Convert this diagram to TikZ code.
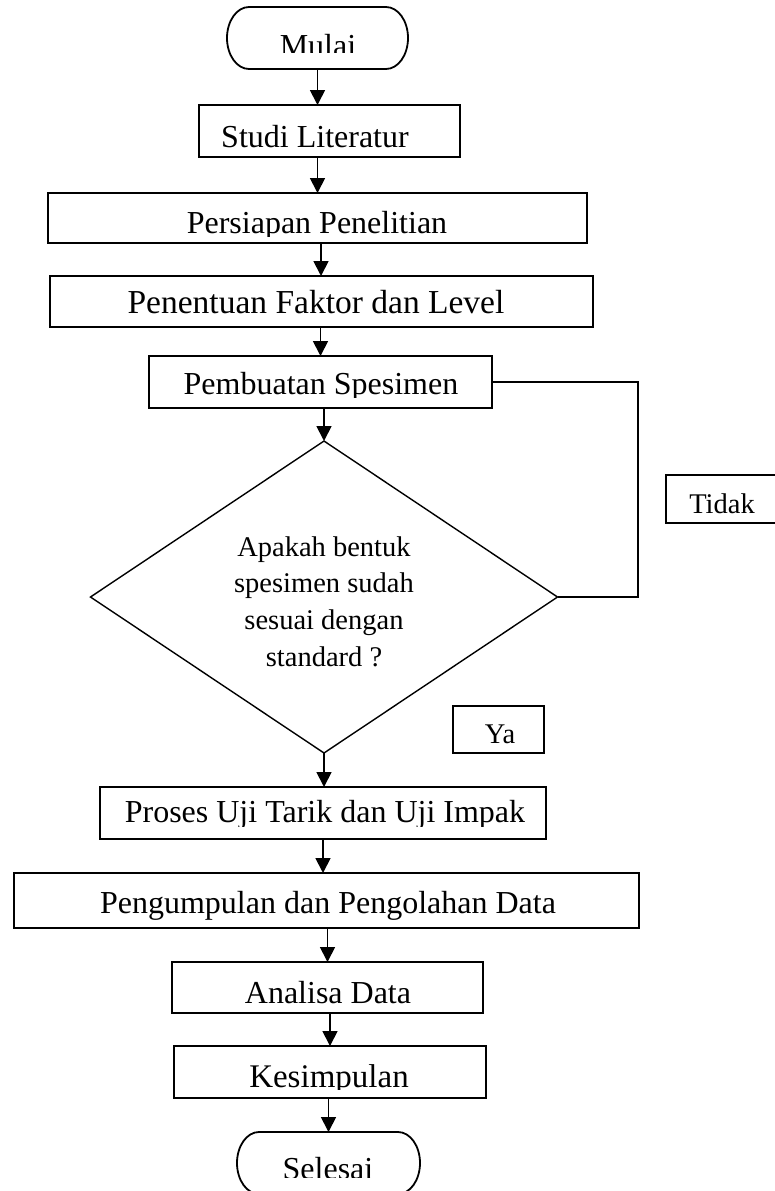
\documentclass[tikz,border=0pt]{standalone}
\usepackage{fontspec}
\setmainfont{Liberation Serif}
\usetikzlibrary{shapes.geometric,arrows.meta}
\newcommand{\boxfont}{\fontsize{32}{38}\selectfont}
\newcommand{\bigboxfont}{\fontsize{33.5}{40}\selectfont}
\newcommand{\midboxfont}{\fontsize{33}{40}\selectfont}
\newcommand{\qfont}{\fontsize{28.5}{36.7}\selectfont}
\newcommand{\lblfont}{\fontsize{28.5}{32}\selectfont}
\begin{document}
\begin{tikzpicture}[x=1pt,y=-1pt,
  stepbox/.style={draw, line width=1.8pt, rectangle, inner sep=0pt, outer sep=0pt, anchor=north west},
  term/.style={rectangle, inner sep=0pt, outer sep=0pt, anchor=north west, minimum height=62pt},
  termline/.style={line width=1.8pt},
  txt/.style={inner sep=0pt, outer sep=0pt, anchor=base, font=\boxfont},
  lbl/.style={txt, font=\lblfont},
  decision/.style={draw, line width=1.4pt, diamond, inner sep=0pt, outer sep=0pt, minimum width=467pt, minimum height=312pt},
  arr/.style={line width=1.8pt, -{Triangle[length=15pt,width=15pt]}},
  link/.style={line width=1.6pt}]
\fill[white] (0,0) rectangle (774,1191);
\useasboundingbox (0,0) rectangle (774,1191);

% terminal start
\node[term, minimum width=181pt] (mulai) at (227,7) {};
\draw[termline] ([xshift=22pt]mulai.north west) -- ([xshift=-22pt]mulai.north east)
  arc[start angle=90, end angle=-90, x radius=22pt, y radius=31pt]
  -- ([xshift=22pt]mulai.south west)
  arc[start angle=270, end angle=90, x radius=22pt, y radius=31pt] -- cycle;
\begin{scope}\clip (227,7) rectangle (408,52);
\node[txt] (mulait) at (318,56) {Mulai};\end{scope}

\node[stepbox, minimum width=261pt, minimum height=52pt] (studi) at (199,105) {};
\node[txt] (studit) at (315,147) {Studi Literatur};

\node[stepbox, minimum width=539pt, minimum height=50pt] (persiapan) at (48,193) {};
\begin{scope}\clip (48,193) rectangle (587,236);
\node[txt] (persiapant) at (317,233) {Persiapan Penelitian};\end{scope}

\node[stepbox, minimum width=543pt, minimum height=51pt] (penentuan) at (50,276) {};
\node[txt, font=\bigboxfont] (penentuant) at (316,313) {Penentuan Faktor dan Level};

\node[stepbox, minimum width=343pt, minimum height=52pt] (pembuatan) at (149,356) {};
\begin{scope}\clip (149,356) rectangle (492,397);
\node[txt] (pembuatant) at (321,394) {Pembuatan Spesimen};\end{scope}

\node[decision] (cek) at (324,597) {};
\node[inner sep=0pt, outer sep=0pt, anchor=north, align=center, font=\qfont] (cekt) at (324,536.5)
  {Apakah bentuk\\spesimen sudah\\sesuai dengan\\standard ?};

\node[stepbox, minimum width=114pt, minimum height=48pt] (tidak) at (666,475) {};
\node[lbl] (tidakt) at (722,513) {Tidak};

\node[stepbox, minimum width=91pt, minimum height=47pt] (ya) at (453,706) {};
\node[lbl] (yat) at (500,743) {Ya};

\node[stepbox, minimum width=446pt, minimum height=52pt] (proses) at (100,787) {};
\begin{scope}\clip (100,787) rectangle (546,826);
\node[txt] (prosest) at (325,822) {Proses Uji Tarik dan Uji Impak};\end{scope}

\node[stepbox, minimum width=625pt, minimum height=55pt] (kumpul) at (14,873) {};
\node[txt] (kumpult) at (328,913) {Pengumpulan dan Pengolahan Data};

\node[stepbox, minimum width=311pt, minimum height=51pt] (analisa) at (172,962) {};
\node[txt] (analisat) at (328,1003) {Analisa Data};

\node[stepbox, minimum width=312pt, minimum height=52pt] (simpul) at (174,1046) {};
\begin{scope}\clip (174,1046) rectangle (486,1089);
\node[txt, font=\midboxfont] (simpult) at (329,1087) {Kesimpulan};\end{scope}

% terminal end
\node[term, minimum width=183pt] (selesai) at (237,1132) {};
\draw[termline] ([xshift=22pt]selesai.north west) -- ([xshift=-22pt]selesai.north east)
  arc[start angle=90, end angle=-90, x radius=22pt, y radius=31pt]
  -- ([xshift=22pt]selesai.south west)
  arc[start angle=270, end angle=90, x radius=22pt, y radius=31pt] -- cycle;
\begin{scope}\clip (237,1132) rectangle (420,1177);
\node[txt] (selesait) at (328,1179) {Selesai};\end{scope}

% connectors
\draw[arr] (mulai.south) -- (mulai.south |- studi.north);
\draw[arr] (studi.south -| persiapan.north) -- (persiapan.north);
\draw[arr] (persiapan.south -| 321,0) -- (penentuan.north -| 321,0);
\draw[arr] (penentuan.south -| pembuatan.north) -- (pembuatan.north);
\draw[arr] (pembuatan.south -| cek.north) -- (cek.north);
\draw[arr] (cek.south) -- (cek.south |- proses.north);
\draw[arr] (proses.south -| proses.north) -- (kumpul.north -| proses.north);
\draw[arr] (kumpul.south -| analisa.north) -- (analisa.north);
\draw[arr] (analisa.south -| simpul.north) -- (simpul.north);
\draw[arr] (simpul.south -| selesai.north) -- (selesai.north);
\coordinate (balik) at (638,597);
\draw[link] (pembuatan.east) -| (balik) -- (cek.east);
\end{tikzpicture}
\end{document}
